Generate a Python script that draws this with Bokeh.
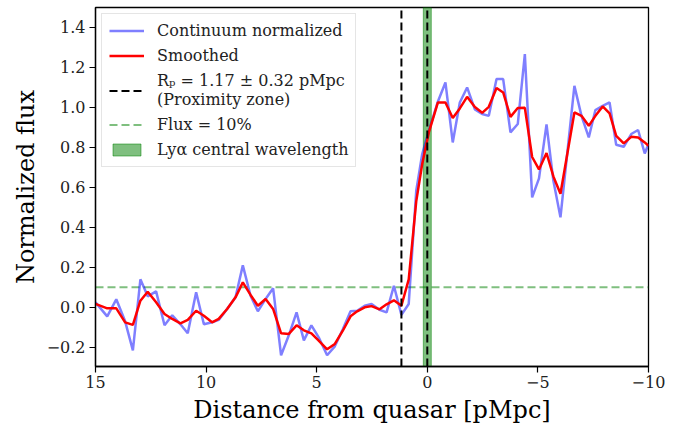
from bokeh.plotting import figure
from bokeh.models import Range1d, FixedTicker, CustomJSTickFormatter, Legend, LegendItem
from bokeh.embed import file_html
from bokeh.resources import INLINE

# ---- data ----
distance = [15.00, 14.47, 14.06, 13.66, 13.31, 12.97, 12.64, 12.26, 11.88, 11.53,
            11.16, 10.83, 10.45, 10.10, 9.73, 9.43, 9.05, 8.67, 8.34, 7.99,
            7.66, 7.31, 6.97, 6.61, 6.26, 5.91, 5.58, 5.24, 4.91, 4.53,
            4.18, 3.82, 3.47, 3.17, 2.83, 2.52, 2.16, 1.84, 1.51, 1.17,
            0.84, 0.50, 0.23, -0.07, -0.48, -0.82, -1.15, -1.47, -1.80, -2.15,
            -2.48, -2.78, -3.13, -3.43, -3.76, -4.09, -4.41, -4.74, -5.05, -5.39,
            -5.70, -6.02, -6.65, -6.97, -7.30, -7.60, -7.93, -8.24, -8.54, -8.88,
            -9.22, -9.53, -9.83, -10.00]
flux_norm = [0.025, -0.045, 0.04, -0.07, -0.215, 0.14, 0.055, 0.08, -0.09, -0.04,
             -0.085, -0.13, 0.075, -0.085, -0.075, -0.063, -0.008, 0.05, 0.21, 0.058,
             -0.02, 0.042, 0.095, -0.24, -0.14, -0.025, -0.165, -0.09, -0.15, -0.24,
             -0.195, -0.11, -0.02, -0.017, 0.008, 0.017, -0.012, -0.025, 0.108, -0.038,
             0.017, 0.583, 0.767, 0.883, 1.03, 1.125, 0.825, 1.025, 1.10, 0.99,
             0.967, 0.958, 1.142, 1.142, 0.875, 0.917, 1.267, 0.55, 0.645, 0.915,
             0.633, 0.45, 1.108, 0.958, 0.85, 0.987, 1.008, 1.025, 0.813, 0.803,
             0.867, 0.887, 0.77, 0.817]
flux_smooth = [0.017, -0.005, -0.005, -0.075, -0.088, 0.033, 0.078, 0.025, -0.033, -0.058,
               -0.08, -0.063, -0.017, -0.042, -0.075, -0.058, -0.008, 0.05, 0.125, 0.062,
               0.008, 0.042, -0.008, -0.13, -0.133, -0.09, -0.115, -0.13, -0.167, -0.21,
               -0.183, -0.117, -0.045, -0.02, 0.0, 0.006, -0.01, 0.015, 0.035, 0.008,
               0.14, 0.53, 0.717, 0.875, 1.025, 1.025, 0.947, 0.995, 1.053, 1.002,
               0.973, 1.003, 1.097, 1.075, 0.953, 0.997, 0.998, 0.752, 0.69, 0.772,
               0.655, 0.568, 0.975, 0.958, 0.908, 0.958, 1.005, 0.97, 0.858, 0.82,
               0.853, 0.85, 0.825, 0.808]

R_P = 1.17
LYA_CENTER = 0.0
LYA_HALF_WIDTH = 0.18
FLUX_THRESHOLD = 0.10

X_START, X_END = 15, -10
Y_START, Y_END = -0.296, 1.5
x_ticks = [15, 10, 5, 0, -5, -10]
y_ticks = [-0.2, 0.0, 0.2, 0.4, 0.6, 0.8, 1.0, 1.2, 1.4]

SERIF = "DejaVu Serif"

p = figure(width=689, height=428, output_backend="svg", toolbar_location=None,
           x_range=Range1d(X_START, X_END), y_range=Range1d(Y_START, Y_END),
           min_border_left=95, min_border_right=41, min_border_top=7, min_border_bottom=62)
p.xgrid.visible = False
p.ygrid.visible = False
p.outline_line_color = "black"
p.outline_line_width = 1.3
p.outline_line_alpha = 1.0
p.background_fill_color = "white"
p.border_fill_color = "white"

yfmt = CustomJSTickFormatter(code="""
var s = tick.toFixed(1);
if (Math.abs(tick) < 1e-9) { s = "0.0"; }
return s.replace('-', '\u2212');
""")
xfmt = CustomJSTickFormatter(code="""
var s = Math.round(tick).toString();
return s.replace('-', '\u2212');
""")

for ax, ticks, f in ((p.xaxis[0], x_ticks, xfmt), (p.yaxis[0], y_ticks, yfmt)):
    ax.ticker = FixedTicker(ticks=ticks)
    ax.formatter = f
    ax.major_tick_out = 6
    ax.major_tick_in = 0
    ax.minor_tick_line_color = None
    ax.major_tick_line_color = "black"
    ax.major_tick_line_width = 1.2
    ax.axis_line_color = "black"
    ax.axis_line_width = 1.3
    ax.major_label_text_font = SERIF
    ax.major_label_text_font_size = "16px"
    ax.major_label_text_color = "#222222"
    ax.axis_label_text_font = SERIF
    ax.axis_label_text_font_style = "normal"
    ax.axis_label_text_color = "black"

p.xaxis.axis_label = "Distance from quasar [pMpc]"
p.yaxis.axis_label = "Normalized flux"
p.xaxis.axis_label_text_font_size = "24px"
p.yaxis.axis_label_text_font_size = "24px"
p.xaxis.major_label_standoff = 3
p.yaxis.major_label_standoff = 4
p.xaxis.axis_label_standoff = 5
p.yaxis.axis_label_standoff = 4

# Lyα band
band = p.quad(left=[LYA_CENTER - LYA_HALF_WIDTH], right=[LYA_CENTER + LYA_HALF_WIDTH],
              bottom=[Y_START], top=[Y_END], fill_color="#008000", fill_alpha=0.5,
              line_color="#008000", line_alpha=0.5, line_width=1)
# 10% flux line
hline = p.segment(x0=[X_START], x1=[X_END], y0=[FLUX_THRESHOLD], y1=[FLUX_THRESHOLD],
                  line_color="#008000", line_alpha=0.5, line_width=2, line_dash="8 4")
blue = p.line(distance, flux_norm, line_color="blue", line_alpha=0.5, line_width=2.5)
red = p.line(distance, flux_smooth, line_color="red", line_width=2.5)
vline = p.segment(x0=[R_P], x1=[R_P], y0=[Y_START], y1=[Y_END],
                  line_color="black", line_width=2, line_dash="8 4")
p.segment(x0=[LYA_CENTER], x1=[LYA_CENTER], y0=[Y_START], y1=[Y_END],
          line_color="black", line_width=2, line_dash="8 4")

legend = Legend(items=[
    LegendItem(label="Continuum normalized", renderers=[blue]),
    LegendItem(label="Smoothed", renderers=[red]),
    LegendItem(label="R\u209a = 1.17 \u00b1 0.32 pMpc\n(Proximity zone)", renderers=[vline]),
    LegendItem(label="Flux = 10%", renderers=[hline]),
    LegendItem(label="Ly\u03b1 central wavelength", renderers=[band]),
], location="top_left")
legend.label_text_font = SERIF
legend.label_text_font_size = "16px"
legend.label_text_color = "#222222"
legend.label_text_line_height = 1.3
legend.glyph_width = 35
legend.glyph_height = 15
legend.label_standoff = 13
legend.spacing = 6
legend.padding = 7
legend.margin = 6
legend.border_line_color = "#cccccc"
legend.border_line_width = 1
legend.background_fill_alpha = 0.8
p.add_layout(legend)

open("out.html", "w").write(file_html(p, INLINE))
